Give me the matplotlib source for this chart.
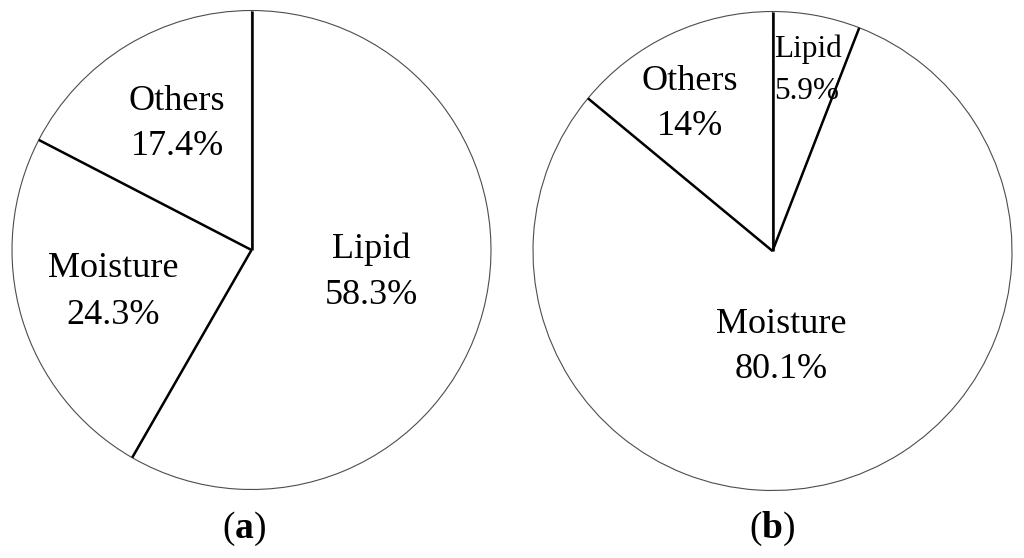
"""Two pie charts of proximate composition, (a) and (b)."""

import matplotlib
matplotlib.use("Agg")
import matplotlib.pyplot as plt
import numpy as np

# data
panel_tags = ["a", "b"]
names_a = ["Lipid", "Moisture", "Others"]
values_a = [58.3, 24.3, 17.4]
names_b = ["Lipid", "Moisture", "Others"]
values_b = [5.9, 80.1, 14]

W, H = 1024, 558

plt.rcParams.update({
    "font.family": "Liberation Serif",
    "mathtext.fontset": "custom",
    "mathtext.rm": "Liberation Serif",
    "mathtext.bf": "Liberation Serif:bold",
})

fig = plt.figure(figsize=(W / 100, H / 100), dpi=100)
ax = fig.add_axes([0, 0, 1, 1])


def px(x, y):
    # pixel coords (top-left origin) -> data coords
    return x, H - y


# layout: pie centre/radius in pixels, label positions (x, name baseline, value baseline, size, ha)
pies = [
    dict(names=names_a, values=values_a, center=(251.5, 250), r=239.5,
         labels=[(371, 258, 304, 26, "center"),
                 (113, 277, 324, 26, "center"),
                 (177, 110, 155, 26, "center")],
         tag_xy=(244, 538)),
    dict(names=names_b, values=values_b, center=(772.5, 251), r=239.5,
         labels=[(774, 57, 99, 22.5, "left"),
                 (781, 333, 378, 26, "center"),
                 (690, 90, 135, 26, "center")],
         tag_xy=(772, 538)),
]

for tag, p in zip(panel_tags, pies):
    cx, cy = px(*p["center"])
    wedges, _ = ax.pie(p["values"], startangle=90, counterclock=False,
                       center=(cx, cy), radius=p["r"],
                       wedgeprops=dict(facecolor="white", edgecolor="0.3",
                                       linewidth=0.8))
    # heavier radial dividers
    for w in wedges:
        t = np.deg2rad(w.theta1)
        ax.plot([cx, cx + p["r"] * np.cos(t)], [cy, cy + p["r"] * np.sin(t)],
                color="black", linewidth=1.8, solid_capstyle="butt")
    for name, val, (lx, by1, by2, fs, ha) in zip(p["names"], p["values"], p["labels"]):
        ax.text(*px(lx, by1), name, fontsize=fs, ha=ha, va="baseline")
        ax.text(*px(lx, by2), f"{val:g}%", fontsize=fs, ha=ha, va="baseline")
    ax.text(*px(*p["tag_xy"]), "($\\mathbf{" + tag + "}$)", fontsize=27,
            ha="center", va="baseline")

ax.set_xlim(0, W)
ax.set_ylim(0, H)
ax.set_aspect("auto")
ax.axis("off")

fig.savefig("out.png", dpi=100, facecolor="white")
